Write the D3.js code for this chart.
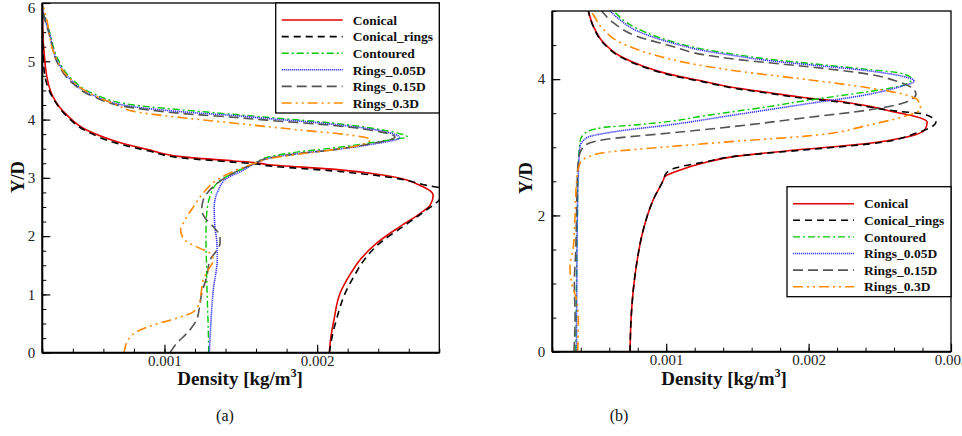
<!DOCTYPE html>
<html><head><meta charset="utf-8">
<script src="https://cdn.jsdelivr.net/npm/d3@7"></script>
<style>body{margin:0;background:#fff}svg{display:block}</style>
</head><body>
<svg id="c" width="962" height="436"></svg>
<script>
// ---------- DATA ----------
const seriesNames = ["Conical","Conical_rings","Contoured","Rings_0.05D","Rings_0.15D","Rings_0.3D"];
const panelLabels = ["(a)","(b)"];
const xTitle = "Density [kg/m";
const yTitle = "Y/D";
const xTicksA = [0.001, 0.002];
const yTicksA = [0,1,2,3,4,5,6];
const xTicksB = [0.001, 0.002, 0.003];
const yTicksB = [0,2,4];

// Panel (a): [density, Y/D]
const conicalA = [[0.00208,0],[0.00209,0.27],[0.00211,0.56],[0.00215,1.02],[0.00222,1.36],[0.00228,1.59],[0.00239,1.88],[0.00254,2.16],[0.00268,2.40],[0.00274,2.53],[0.00276,2.70],[0.00269,2.85],[0.00243,3.05],[0.0021,3.15],[0.00167,3.23],[0.0016,3.26],[0.00145,3.29],[0.00112,3.36],[0.0009,3.48],[0.00069,3.62],[0.00049,3.82],[0.00036,4.08],[0.00027,4.39],[0.00022,4.91],[0.0002,5.82],[0.0002,6]];
const conicalRingsA = [[0.00208,0],[0.0021,0.3],[0.00213,0.6],[0.00218,1.0],[0.00225,1.35],[0.00231,1.6],[0.00241,1.88],[0.00256,2.16],[0.0027,2.42],[0.0028,2.62],[0.00284,2.8],[0.00272,2.87],[0.00245,3.02],[0.0021,3.12],[0.00167,3.21],[0.0016,3.24],[0.00145,3.27],[0.00112,3.34],[0.0009,3.46],[0.00068,3.6],[0.00049,3.8],[0.00036,4.06],[0.00027,4.37],[0.00021,4.9],[0.0002,5.8],[0.0002,6]];
const contouredA = [[0.00129,0],[0.001287,0.39],[0.00128,0.96],[0.001275,1.54],[0.001272,1.93],[0.001272,2.1],[0.001277,2.39],[0.001298,2.68],[0.001353,2.93],[0.001451,3.08],[0.0016,3.26],[0.00167,3.35],[0.00189,3.45],[0.0021,3.51],[0.00232,3.59],[0.0025,3.66],[0.00259,3.70],[0.00243,3.82],[0.0021,3.94],[0.00167,4.04],[0.00145,4.09],[0.00123,4.14],[0.0008,4.25],[0.00053,4.45],[0.0004,4.68],[0.0003,5.05],[0.00025,5.48],[0.0002,5.98],[0.0002,6]];
const rings005A = [[0.001294,0],[0.001305,0.56],[0.00132,1.08],[0.001346,1.62],[0.001342,1.93],[0.00133,2.16],[0.001326,2.5],[0.001353,2.79],[0.001408,2.99],[0.001516,3.13],[0.0016,3.26],[0.00167,3.33],[0.00189,3.42],[0.0021,3.48],[0.00232,3.56],[0.00254,3.69],[0.00243,3.80],[0.0021,3.92],[0.00167,4.02],[0.00145,4.07],[0.00123,4.11],[0.0008,4.22],[0.00053,4.42],[0.0004,4.65],[0.0003,5.0],[0.00025,5.45],[0.0002,5.98],[0.0002,6]];
const rings015A = [[0.001036,0],[0.00108,0.16],[0.001146,0.33],[0.00121,0.56],[0.00123,0.79],[0.001244,1.02],[0.001277,1.30],[0.001298,1.59],[0.00133,1.71],[0.001364,1.88],[0.001364,1.99],[0.00132,2.16],[0.001266,2.31],[0.001244,2.45],[0.001254,2.62],[0.00132,2.85],[0.00145,3.08],[0.0016,3.26],[0.00167,3.33],[0.00189,3.42],[0.0021,3.48],[0.00232,3.57],[0.00251,3.70],[0.00243,3.78],[0.0021,3.90],[0.00167,3.99],[0.00145,4.04],[0.00123,4.08],[0.0008,4.20],[0.00053,4.40],[0.0004,4.62],[0.0003,4.97],[0.00025,5.42],[0.0002,5.98],[0.0002,6]];
const rings03A = [[0.000735,0],[0.000763,0.22],[0.000818,0.36],[0.000927,0.475],[0.00108,0.59],[0.001189,0.70],[0.001228,0.85],[0.00124,1.02],[0.001254,1.25],[0.001287,1.42],[0.00132,1.59],[0.001298,1.71],[0.001233,1.79],[0.001135,1.93],[0.001106,2.1],[0.001135,2.28],[0.001189,2.5],[0.001254,2.74],[0.001342,2.96],[0.001495,3.16],[0.0016,3.26],[0.00167,3.32],[0.00189,3.41],[0.0021,3.48],[0.00229,3.57],[0.00235,3.66],[0.0022,3.74],[0.00189,3.82],[0.00145,3.94],[0.00123,4.0],[0.0008,4.14],[0.00069,4.25],[0.00049,4.48],[0.00036,4.76],[0.00027,5.19],[0.00023,5.71],[0.0002,6]];

// Panel (b): [density, Y/D]
const conicalB = [[0.000746,0],[0.000753,0.47],[0.000769,0.91],[0.000793,1.30],[0.000839,1.79],[0.000909,2.23],[0.00098,2.52],[0.000991,2.57],[0.001074,2.65],[0.00126,2.77],[0.001495,2.87],[0.001963,2.97],[0.00243,3.06],[0.002665,3.14],[0.002817,3.26],[0.002833,3.37],[0.002735,3.46],[0.002619,3.51],[0.00243,3.60],[0.002197,3.68],[0.001963,3.73],[0.00173,3.80],[0.001495,3.87],[0.00126,3.97],[0.001027,4.07],[0.000839,4.19],[0.000675,4.34],[0.000558,4.54],[0.000488,4.78],[0.000453,5.0]];
const conicalRingsB = [[0.000746,0],[0.000753,0.47],[0.000769,0.91],[0.000793,1.30],[0.000839,1.79],[0.000909,2.23],[0.00098,2.52],[0.001,2.62],[0.00107,2.70],[0.00126,2.78],[0.001495,2.87],[0.001963,2.96],[0.00243,3.05],[0.00276,3.21],[0.002894,3.37],[0.002806,3.49],[0.002619,3.53],[0.00243,3.59],[0.002197,3.67],[0.001963,3.72],[0.00173,3.79],[0.001495,3.86],[0.00126,3.96],[0.001027,4.06],[0.000839,4.18],[0.000675,4.33],[0.000558,4.53],[0.000488,4.77],[0.000453,5.0]];
const contouredB = [[0.000365,0],[0.00037,1.0],[0.000376,2.0],[0.000383,2.72],[0.000395,3.09],[0.00043,3.21],[0.000558,3.29],[0.000793,3.33],[0.001027,3.38],[0.00126,3.46],[0.001495,3.53],[0.00173,3.60],[0.001963,3.68],[0.002197,3.75],[0.00243,3.82],[0.002665,3.91],[0.002724,4.0],[0.002642,4.09],[0.00243,4.14],[0.002197,4.19],[0.001963,4.24],[0.00173,4.29],[0.001495,4.36],[0.00126,4.44],[0.001027,4.56],[0.000863,4.68],[0.000722,4.83],[0.00064,4.98],[0.00063,5.0]];
const rings005B = [[0.00037,0],[0.000372,1.0],[0.000376,2.0],[0.000383,2.62],[0.000395,3.01],[0.000441,3.14],[0.000675,3.24],[0.001027,3.33],[0.001495,3.48],[0.001963,3.63],[0.00243,3.78],[0.002642,3.89],[0.002742,3.97],[0.002665,4.04],[0.00243,4.12],[0.001963,4.22],[0.00173,4.27],[0.001495,4.34],[0.00126,4.42],[0.001027,4.54],[0.000793,4.71],[0.000675,4.87],[0.000605,5.0]];
const rings015B = [[0.000352,0],[0.00036,0.5],[0.000355,1.0],[0.000365,1.5],[0.00037,2.0],[0.000375,2.5],[0.000383,2.82],[0.000418,3.01],[0.000558,3.11],[0.001027,3.21],[0.001495,3.31],[0.001963,3.43],[0.00243,3.55],[0.002665,3.65],[0.002754,3.78],[0.002712,3.89],[0.002619,3.97],[0.00243,4.07],[0.001963,4.19],[0.001495,4.29],[0.00126,4.36],[0.001027,4.49],[0.000793,4.63],[0.000628,4.83],[0.000547,5.0]];
const rings03B = [[0.000378,0],[0.000383,0.47],[0.000371,0.76],[0.000336,1.0],[0.000324,1.25],[0.000348,1.54],[0.00036,2.0],[0.000371,2.52],[0.000395,2.77],[0.000465,2.87],[0.000558,2.92],[0.001027,3.01],[0.001495,3.09],[0.001963,3.16],[0.00243,3.33],[0.002712,3.48],[0.002787,3.55],[0.00277,3.68],[0.002665,3.78],[0.00243,3.87],[0.001963,4.0],[0.001495,4.12],[0.001144,4.24],[0.000909,4.36],[0.000675,4.54],[0.000558,4.73],[0.000477,4.98],[0.00047,5.0]];

// ---------- STYLES ----------
const styles = [
  {color:"#e00000", dash:null, w:1.6},
  {color:"#000000", dash:"7,5", w:1.6},
  {color:"#00c800", dash:"7,3,2,3", w:1.4},
  {color:"#3030ff", dash:"1.2,0.8", w:1.6},
  {color:"#555555", dash:"10,5", w:1.6},
  {color:"#ff8a00", dash:"10,4,2,4,2,4", w:1.6}
];
const FONT = "Liberation Serif, Times New Roman, serif";
const svg = d3.select("#c");

function fmt(d){ return d3.format(".3f")(d); }

function drawPanel(p){
  const x = d3.scaleLinear().domain(p.xDom).range([p.left, p.right]);
  const y = d3.scaleLinear().domain(p.yDom).range([p.bottom, p.top]);
  const g = svg.append("g");
  const cid = "clip" + p.id;
  svg.append("defs").append("clipPath").attr("id", cid).append("rect")
    .attr("x", p.left).attr("y", p.top).attr("width", p.right - p.left).attr("height", p.bottom - p.top);

  // minor ticks
  const xAxMinor = d3.axisBottom(x).tickValues(d3.range(p.xDom[0], p.xDom[1]+1e-9, 0.0002)).tickSize(-4).tickFormat("");
  g.append("g").attr("transform", `translate(0,${p.bottom})`).call(xAxMinor)
    .call(s=>s.select(".domain").remove()).selectAll("line").attr("stroke","#000").attr("stroke-width",1);
  const yAxMinor = d3.axisLeft(y).tickValues(d3.range(p.yDom[0], p.yDom[1]+1e-9, p.yMinor)).tickSize(-4).tickFormat("");
  g.append("g").attr("transform", `translate(${p.left},0)`).call(yAxMinor)
    .call(s=>s.select(".domain").remove()).selectAll("line").attr("stroke","#000").attr("stroke-width",1);

  // major ticks
  const xAx = d3.axisBottom(x).tickValues(p.xTicks).tickSize(-8).tickPadding(3).tickFormat(fmt);
  const xg = g.append("g").attr("transform", `translate(0,${p.bottom})`).call(xAx);
  xg.select(".domain").remove();
  xg.selectAll("line").attr("stroke","#000").attr("stroke-width",1.2);
  xg.selectAll("text").attr("font-family",FONT).attr("font-size",15).attr("fill","#222");
  const yAx = d3.axisLeft(y).tickValues(p.yTicks).tickSize(-8).tickPadding(7).tickFormat(d3.format("d"));
  const yg = g.append("g").attr("transform", `translate(${p.left},0)`).call(yAx);
  yg.select(".domain").remove();
  yg.selectAll("line").attr("stroke","#000").attr("stroke-width",1.2);
  yg.selectAll("text").attr("font-family",FONT).attr("font-size",15).attr("fill","#222")
    .attr("dy", d => (y(d) - p.top < 6) ? "0.6em" : "0.32em");

  // curves
  const line = d3.line().x(d=>x(d[0])).y(d=>y(d[1])).curve(d3.curveMonotoneY);
  const cg = g.append("g").attr("clip-path", `url(#${cid})`);
  p.series.forEach((s,i)=>{
    const st = styles[i];
    cg.append("path").datum(s).attr("d", line).attr("fill","none")
      .attr("stroke", st.color).attr("stroke-width", st.w)
      .attr("stroke-dasharray", st.dash).attr("stroke-linejoin","round");
  });

  // frame
  g.append("rect").attr("x",p.left).attr("y",p.top).attr("width",p.right-p.left).attr("height",p.bottom-p.top)
    .attr("fill","none").attr("stroke","#000").attr("stroke-width",1.3);
  g.append("line").attr("x1",p.left).attr("x2",p.right).attr("y1",p.bottom).attr("y2",p.bottom).attr("stroke","#000").attr("stroke-width",2);
  g.append("line").attr("x1",p.left).attr("x2",p.left).attr("y1",p.top).attr("y2",p.bottom).attr("stroke","#000").attr("stroke-width",2);

  // legend
  const L = p.legend;
  g.append("rect").attr("x",L.x).attr("y",L.y).attr("width",L.w).attr("height",L.h)
    .attr("fill","#fff").attr("stroke","#000").attr("stroke-width",1.3);
  seriesNames.forEach((n,i)=>{
    const yy = L.y + 17 + i*16.6;
    const st = styles[i];
    g.append("line").attr("x1",L.x+6).attr("x2",L.x+67).attr("y1",yy).attr("y2",yy)
      .attr("stroke",st.color).attr("stroke-width",st.w).attr("stroke-dasharray",st.dash);
    g.append("text").attr("x",L.x+77).attr("y",yy).attr("dy","0.35em").text(n)
      .attr("font-family",FONT).attr("font-weight","bold").attr("font-size",13.5).attr("fill","#111");
  });

  // axis titles
  const xt = g.append("text").attr("x",p.xTitleX).attr("y",385).attr("text-anchor","middle")
    .attr("font-family",FONT).attr("font-weight","bold").attr("font-size",19).attr("fill","#111");
  xt.append("tspan").text(xTitle);
  xt.append("tspan").text("3").attr("font-size",11.5).attr("dy",-8);
  xt.append("tspan").text("]").attr("dy",8);
  g.append("text").attr("transform",`translate(${p.yTitleX},${p.yTitleY}) rotate(-90)`).attr("text-anchor","middle")
    .attr("font-family",FONT).attr("font-weight","bold").attr("font-size",18.5).attr("fill","#111").text(yTitle);
  g.append("text").attr("x",p.labelX).attr("y",421).attr("text-anchor","middle")
    .attr("font-family",FONT).attr("font-size",16).attr("fill","#111").text(p.label);
}

drawPanel({id:"a", left:42.3, right:439.3, top:3, bottom:352.7,
  xDom:[0.0002,0.0028], yDom:[0,6], yMinor:0.25, xTicks:xTicksA, yTicks:yTicksA,
  series:[conicalA, conicalRingsA, contouredA, rings005A, rings015A, rings03A],
  legend:{x:275.7, y:3, w:163.6, h:110}, xTitleX:240, yTitleX:24, yTitleY:177, labelX:225, label:panelLabels[0]});
drawPanel({id:"b", left:552.3, right:951, top:11, bottom:351.7,
  xDom:[0.0002,0.003], yDom:[0,5], yMinor:0.5, xTicks:xTicksB, yTicks:yTicksB,
  series:[conicalB, conicalRingsB, contouredB, rings005B, rings015B, rings03B],
  legend:{x:787, y:186.7, w:164, h:110}, xTitleX:724, yTitleX:532, yTitleY:178, labelX:619, label:panelLabels[1]});
</script>
</body></html>
